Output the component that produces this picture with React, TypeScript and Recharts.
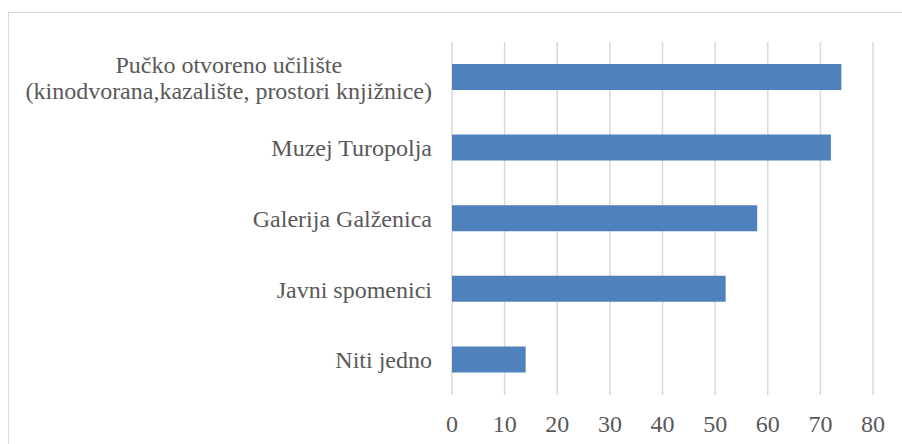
import React from "react";
import { BarChart, Bar, XAxis, YAxis, CartesianGrid } from "recharts";

const categories = [
  "Pučko otvoreno učilište\n(kinodvorana,kazalište, prostori knjižnice)",
  "Muzej Turopolja",
  "Galerija Galženica",
  "Javni spomenici",
  "Niti jedno",
];
const values = [74, 72, 58, 52, 14];
const xTicks = [0, 10, 20, 30, 40, 50, 60, 70, 80];

const data = categories.map((c, i) => ({ name: c, value: values[i] }));

const FONT = "Liberation Serif, Times New Roman, DejaVu Serif, serif";
const TEXT = "#595959";
const FS = 24;

let ctx: CanvasRenderingContext2D | null = null;
const measure = (s: string) => {
  if (typeof document === "undefined") return s.length * FS * 0.45;
  if (!ctx) {
    const c = document.createElement("canvas");
    ctx = c.getContext("2d");
  }
  if (!ctx) return s.length * FS * 0.45;
  ctx.font = `${FS}px "Liberation Serif", "Times New Roman", serif`;
  return ctx.measureText(s).width;
};

const YTick = (props: any) => {
  const { x, y, payload } = props;
  const lines = String(payload.value).split("\n");
  const lh = 26;
  const multi = lines.length > 1;
  const maxW = multi ? Math.max(...lines.map(measure)) : 0;
  return (
    <g>
      {lines.map((l, i) => (
        <text
          key={i}
          x={multi ? x - maxW / 2 : x}
          y={y + (i - (lines.length - 1) / 2) * lh}
          dy="0.35em"
          textAnchor={multi ? "middle" : "end"}
          fill={TEXT}
          style={{ fontFamily: FONT, fontSize: FS }}
        >
          {l}
        </text>
      ))}
    </g>
  );
};

const XTick = (props: any) => {
  const { x, y, payload } = props;
  return (
    <text
      x={x}
      y={y}
      dy="0.71em"
      textAnchor="middle"
      fill={TEXT}
      style={{ fontFamily: FONT, fontSize: FS }}
    >
      {payload.value}
    </text>
  );
};

export default function App() {
  return (
    <div style={{ position: "fixed", left: 0, top: 0, width: 902, height: 444, background: "#fff", fontFamily: FONT }}>
      <div
        style={{
          position: "absolute",
          left: 8,
          top: 12,
          width: 1000,
          height: 500,
          borderTop: "1px solid #D9D9D9",
          borderLeft: "1px solid #D9D9D9",
        }}
      />
      <div style={{ position: "absolute", left: 0, top: 0 }}>
        <BarChart
          width={902}
          height={444}
          data={data}
          layout="vertical"
          margin={{ top: 42, right: 29, left: 0, bottom: 0 }}
          style={{ fontFamily: FONT }}
        >
          <CartesianGrid horizontal={false} stroke="#D9D9D9" strokeWidth={1.5} />
          <XAxis
            type="number"
            domain={[0, 80]}
            ticks={xTicks}
            axisLine={false}
            tickLine={false}
            tickSize={0}
            tickMargin={20}
            height={49}
            interval={0}
            tick={<XTick />}
          />
          <YAxis
            type="category"
            dataKey="name"
            width={452}
            axisLine={false}
            tickLine={false}
            tickSize={0}
            tickMargin={20}
            interval={0}
            tick={<YTick />}
          />
          <Bar dataKey="value" fill="#4F81BD" barSize={26} isAnimationActive={false} />
        </BarChart>
      </div>
    </div>
  );
}
